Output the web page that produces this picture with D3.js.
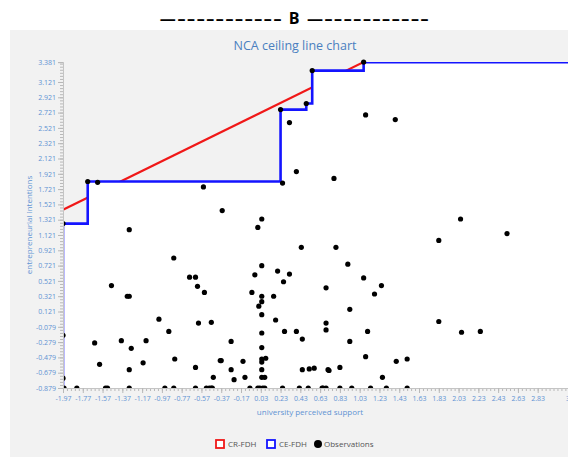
<!DOCTYPE html>
<html>
<head>
<meta charset="utf-8">
<script src="https://cdn.jsdelivr.net/npm/d3@7/dist/d3.min.js"></script>
<style>
  body { margin: 0; background: #ffffff; }
  text { font-family: "Open Sans", "Noto Sans", sans-serif; }
</style>
</head>
<body>
<div id="chart"></div>
<script>
// Tick labels on both axes (first label is the data minimum, last is the axis end).
const xTicks = [-1.97, -1.77, -1.57, -1.37, -1.17, -0.97, -0.77, -0.57, -0.37, -0.17,
                0.03, 0.23, 0.43, 0.63, 0.83, 1.03, 1.23, 1.43, 1.63, 1.83, 2.03,
                2.23, 2.43, 2.63, 2.83, 3.18];
const yTicks = [-0.879, -0.679, -0.479, -0.279, -0.079, 0.121, 0.321, 0.521, 0.721,
                0.921, 1.121, 1.321, 1.521, 1.721, 1.921, 2.121, 2.321, 2.521, 2.721,
                2.921, 3.121, 3.381];

// CR-FDH ceiling (straight line), two end points.
const crX = [-1.97, 1.07];
const crY = [1.45, 3.381];

// CE-FDH ceiling, the peers (corners of the step line).
const ceX = [-1.97, -1.72, 0.23, 0.49, 0.55, 1.07];
const ceY = [1.27, 1.82, 2.76, 2.84, 3.27, 3.381];

// Observations.
const obsX = [-1.97, -1.72, -1.62, -0.55, 0.25, 0.23, 0.49, 0.55, 1.07, 0.32,
              1.09, 1.39, 0.39, 0.77, -0.36, 0.04, 0.00, -1.30, 2.05, 2.52,
              1.83, 0.44, 0.79, -0.85, 0.04, 0.91, -0.03, 0.20, 0.32, -0.69,
              -0.63, 1.07, 0.26, -1.48, -0.61, 1.25, 0.69, -0.54, -0.06, 1.18,
              -1.32, -1.30, 0.04, 0.16, 0.04, 0.01, 0.93, 0.04, 0.18, -1.00,
              -0.60, -0.47, 0.69, 1.83, -0.90, 0.04, 0.27, 0.39, 0.69, 2.06,
              2.25, 1.11, -1.97, 0.45, -1.65, -1.38, -1.13, -1.28, -0.27, 0.93,
              0.04, -0.84, -1.60, -1.16, -1.30, -0.63, -0.38, -0.37, -0.27, -0.15,
              0.04, 0.08, 0.04, 0.04, 1.09, 1.40, 1.51, 0.45, 0.52, 0.57,
              0.71, 0.72, 0.83, -1.97, -0.45, -0.24, -0.13, 0.04, 0.07, 1.26,
              -1.96, -1.83, -1.54, -1.52, -1.30, -0.94, -0.85, -0.63, -0.52, -0.49,
              -0.47, -0.46, -0.08, 0.00, 0.02, 0.05, 0.07, 0.25, 0.42, 0.51,
              0.65, 0.66, 0.69, 0.83, 0.95, 1.14, 1.30, 1.51];
const obsY = [1.27, 1.82, 1.81, 1.75, 1.80, 2.76, 2.84, 3.27, 3.381, 2.59,
              2.69, 2.63, 1.95, 1.86, 1.44, 1.33, 1.22, 1.19, 1.33, 1.14,
              1.05, 0.96, 0.96, 0.82, 0.72, 0.74, 0.60, 0.65, 0.61, 0.57,
              0.57, 0.56, 0.51, 0.46, 0.45, 0.46, 0.43, 0.37, 0.37, 0.35,
              0.32, 0.32, 0.32, 0.32, 0.25, 0.19, 0.15, 0.08, 0.01, 0.02,
              -0.03, -0.02, -0.03, -0.01, -0.14, -0.16, -0.14, -0.14, -0.12, -0.15,
              -0.14, -0.14, -0.19, -0.24, -0.29, -0.26, -0.26, -0.36, -0.27, -0.27,
              -0.35, -0.50, -0.57, -0.55, -0.64, -0.61, -0.52, -0.52, -0.64, -0.53,
              -0.50, -0.49, -0.54, -0.64, -0.47, -0.53, -0.50, -0.64, -0.63, -0.62,
              -0.64, -0.65, -0.61, -0.75, -0.74, -0.77, -0.74, -0.74, -0.74, -0.74,
              -0.879, -0.879, -0.879, -0.879, -0.879, -0.879, -0.879, -0.879, -0.879, -0.879,
              -0.879, -0.879, -0.879, -0.879, -0.879, -0.879, -0.879, -0.879, -0.879, -0.879,
              -0.879, -0.879, -0.879, -0.879, -0.879, -0.879, -0.879, -0.879];

const width = 568, height = 457;
const labelBlue = "#5f93d3";

const svg = d3.select("#chart").append("svg")
    .attr("width", width)
    .attr("height", height);

// Header above the chart panel.
svg.append("text")
    .attr("x", 295)
    .attr("y", 24)
    .attr("text-anchor", "middle")
    .style("font-size", "16px")
    .style("font-weight", "bold")
    .style("letter-spacing", "1.6px")
    .style("fill", "#000")
    .text("\u2014\u2013\u2013\u2013\u2013\u2013\u2013\u2013\u2013\u2013\u2013\u2013 B \u2014\u2013\u2013\u2013\u2013\u2013\u2013\u2013\u2013\u2013\u2013\u2013");

// Grey chart panel.
svg.append("rect")
    .attr("x", 10).attr("y", 30)
    .attr("width", width - 10).attr("height", height - 30)
    .attr("fill", "#f2f2f2");

svg.append("text")
    .attr("x", 295)
    .attr("y", 50)
    .attr("text-anchor", "middle")
    .style("font-size", "12.5px")
    .style("fill", "#4a7fc0")
    .text("NCA ceiling line chart");

// Scales.
const xMin = xTicks[0], xMax = xTicks[xTicks.length - 1];
const yMin = yTicks[0], yMax = yTicks[yTicks.length - 1];
const x = d3.scaleLinear().domain([xMin, xMax]).range([63, 572.3]);
const y = d3.scaleLinear().domain([yMin, yMax]).range([388, 62.1]);

// Clip paths: lines stop at the plot edges, dots may poke out at the top.
const defs = svg.append("defs");
defs.append("clipPath").attr("id", "plotclip").append("rect")
    .attr("x", x(xMin)).attr("y", y(yMax))
    .attr("width", width - x(xMin)).attr("height", y(yMin) - y(yMax));
defs.append("clipPath").attr("id", "dotclip").append("rect")
    .attr("x", x(xMin)).attr("y", 40)
    .attr("width", width - x(xMin)).attr("height", y(yMin) - 40);

const plot = svg.append("g").attr("clip-path", "url(#plotclip)");

// CR-FDH line goes under the white area.
const crPts = crX.map((d, i) => [d, crY[i]]);
plot.append("path")
    .datum(crPts)
    .attr("fill", "none")
    .attr("stroke", "#f01818")
    .attr("stroke-width", 2.2)
    .attr("d", d3.line().x(d => x(d[0])).y(d => y(d[1])));

// CE-FDH step: start at bottom-left, go through peers, run to the right end.
const cePts = [[xMin, yMin]].concat(ceX.map((d, i) => [d, ceY[i]]), [[xMax, ceY[ceY.length - 1]]]);

plot.append("path")
    .datum(cePts)
    .attr("fill", "#ffffff")
    .attr("d", d3.area().curve(d3.curveStepAfter)
        .x(d => x(d[0]))
        .y0(y(yMin))
        .y1(d => y(d[1])));

plot.append("path")
    .datum(cePts)
    .attr("fill", "none")
    .attr("stroke", "#1414ff")
    .attr("stroke-width", 2.6)
    .attr("d", d3.line().curve(d3.curveStepAfter).x(d => x(d[0])).y(d => y(d[1])));

// Observations.
svg.append("g")
    .attr("clip-path", "url(#dotclip)")
    .selectAll("circle")
    .data(obsX.map((d, i) => [d, obsY[i]]))
    .enter().append("circle")
    .attr("cx", d => x(d[0]))
    .attr("cy", d => y(d[1]))
    .attr("r", 2.6)
    .attr("fill", "#000");

// Axes: minor ticks every 0.04, major ticks with labels.
const xMinor = d3.range(xMin, xMax, 0.04);
const yMinor = d3.range(yMin, yMax, 0.04);

function styleAxis(g) {
    g.select(".domain").attr("stroke", "#c4c4c4");
    g.selectAll(".tick line").attr("stroke", "#b8b8b8");
    g.selectAll(".tick text").style("fill", labelBlue).style("font-size", "7px");
}

svg.append("g")
    .attr("transform", "translate(0," + y(yMin) + ")")
    .call(d3.axisBottom(x).tickValues(xMinor).tickSize(3).tickFormat(""))
    .call(styleAxis);
svg.append("g")
    .attr("transform", "translate(0," + y(yMin) + ")")
    .call(d3.axisBottom(x).tickValues(xTicks).tickSize(5).tickPadding(3)
        .tickFormat(d => d.toFixed(2)))
    .call(styleAxis);

svg.append("g")
    .attr("transform", "translate(" + x(xMin) + ",0)")
    .call(d3.axisLeft(y).tickValues(yMinor).tickSize(3).tickFormat(""))
    .call(styleAxis);
svg.append("g")
    .attr("transform", "translate(" + x(xMin) + ",0)")
    .call(d3.axisLeft(y).tickValues(yTicks).tickSize(5).tickPadding(2)
        .tickFormat(d => d.toFixed(3)))
    .call(styleAxis);

// Axis titles.
svg.append("text")
    .attr("x", 310)
    .attr("y", 415)
    .attr("text-anchor", "middle")
    .style("font-size", "8px")
    .style("fill", labelBlue)
    .text("university perceived support");

svg.append("text")
    .attr("transform", "translate(32,225) rotate(-90)")
    .attr("text-anchor", "middle")
    .style("font-size", "8px")
    .style("fill", labelBlue)
    .text("entrepreneurial intentions");

// Legend.
const legend = svg.append("g").style("font-size", "8px");
legend.append("rect")
    .attr("x", 216).attr("y", 440).attr("width", 8).attr("height", 8)
    .attr("fill", "#fff").attr("stroke", "#f01818").attr("stroke-width", 1.8);
legend.append("text").attr("x", 228).attr("y", 447).style("fill", "#555").text("CR-FDH");
legend.append("rect")
    .attr("x", 267).attr("y", 440).attr("width", 8).attr("height", 8)
    .attr("fill", "#fff").attr("stroke", "#1414ff").attr("stroke-width", 1.8);
legend.append("text").attr("x", 279).attr("y", 447).style("fill", "#555").text("CE-FDH");
legend.append("circle")
    .attr("cx", 318).attr("cy", 444).attr("r", 4).attr("fill", "#000");
legend.append("text").attr("x", 324).attr("y", 447).style("fill", "#555").text("Observations");
</script>
</body>
</html>
